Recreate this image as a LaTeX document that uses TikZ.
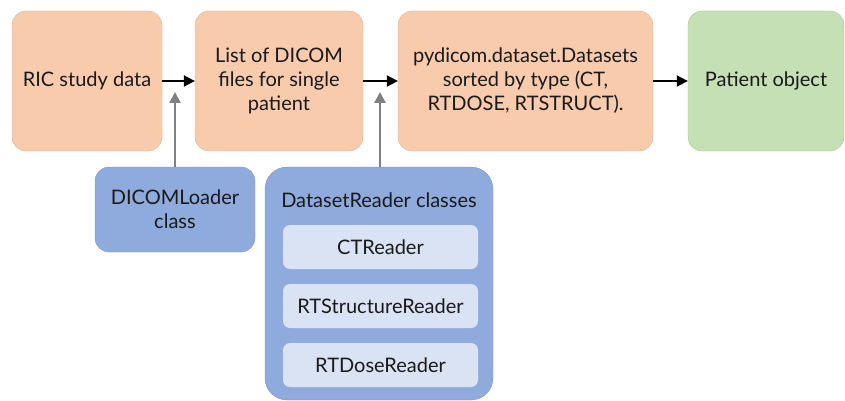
\documentclass[tikz,border=0pt]{standalone}
\usepackage{fontspec}
\setmainfont{Lato}
\usetikzlibrary{arrows.meta}
\definecolor{peach}{HTML}{F8CBAD}
\definecolor{leaf}{HTML}{C5E0B4}
\definecolor{bluebox}{HTML}{8FAADC}
\definecolor{paleblue}{HTML}{DAE3F3}
\definecolor{txt}{HTML}{1A1A1A}
\definecolor{greyarrow}{HTML}{808080}
\tikzset{
  base/.style={inner sep=0pt, align=center, text=txt, font=\fontsize{20}{24}\selectfont},
  mainbox/.style={base, rounded corners=14pt, minimum height=140pt},
  peachbox/.style={mainbox, fill=peach, draw=peach!85!black, line width=0.3pt},
  greenbox/.style={mainbox, fill=leaf, draw=leaf!85!black, line width=0.3pt},
  loaderbox/.style={base, fill=bluebox, draw=bluebox!85!black, line width=0.3pt, rounded corners=14pt},
  readerbox/.style={base, fill=paleblue, rounded corners=7pt, minimum width=195pt, minimum height=44pt},
  flow/.style={-{Triangle[length=11pt,width=11pt]}, line width=1.8pt, black},
  feed/.style={-{Triangle[length=11pt,width=11pt]}, line width=2.4pt, greyarrow},
}
\begin{document}
\begin{tikzpicture}[x=1pt,y=1pt]
\useasboundingbox (0,0) rectangle (845,-401);
\node[peachbox, minimum width=150pt] (ric) at (87,-81) {RIC study data};
\node[peachbox, minimum width=168pt] (list) at (279,-81) {List of DICOM\\files for single\\patient};
\node[peachbox, minimum width=255pt] (ds) at (525.5,-81) {pydicom.dataset.Datasets\\sorted by type (CT,\\RTDOSE, RTSTRUCT).};
\node[greenbox, minimum width=156pt] (pat) at (766,-81) {Patient object};
\node[loaderbox, minimum width=160pt, minimum height=85pt] (loader) at (175,-209.5) {DICOMLoader\\class};
\node[loaderbox, rounded corners=22pt, minimum width=228pt, minimum height=233pt] (readers) at (379,-283.5) {};
\node[base] (title) at (379,-200) {DatasetReader classes};
\node[readerbox] (ct) at (380.5,-247) {CTReader};
\node[readerbox] (rts) at (380.5,-306) {RTStructureReader};
\node[readerbox] (rtd) at (380.5,-365) {RTDoseReader};
\draw[flow] (ric.east) -- (list.west);
\draw[flow] (list.east) -- (ds.west);
\draw[flow] (ds.east) -- (pat.west);
\coordinate (tipA) at (175,-92);
\coordinate (tipB) at (380,-92);
\draw[feed] (loader.north) -- (tipA);
\draw[feed] (readers.north -| tipB) -- (tipB);
\end{tikzpicture}
\end{document}
